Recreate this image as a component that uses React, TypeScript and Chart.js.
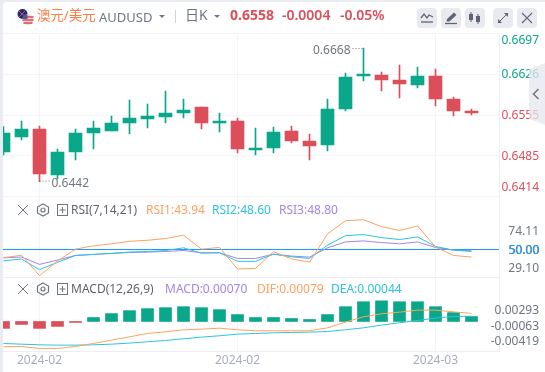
import React, { useEffect, useRef } from "react";
import { Chart, registerables } from "chart.js";

Chart.register(...registerables);

const FONT = '"Noto Sans","Noto Sans CJK SC",sans-serif';
const GREEN = "#0aa78a";
const RED = "#dc4f5a";
const GREY = "#6f7683";
const ORANGE = "#ffa15f";
const CYAN = "#2cc4e0";
const PURPLE = "#a585e6";
const GRID = "#f2f4f8";
const BLUE = "#1a9bf5";

const opens = [0.6491, 0.6517, 0.65308, 0.64512, 0.6491, 0.65239, 0.65274, 0.65412, 0.65481, 0.65516, 0.65585, 0.65689, 0.65412, 0.65447, 0.64945, 0.64979, 0.65274, 0.65101, 0.65031, 0.65654, 0.66226, 0.66243, 0.66156, 0.6607, 0.66226, 0.65828, 0.6562];
const highs = [0.65349, 0.65447, 0.6536, 0.64962, 0.65308, 0.65447, 0.65533, 0.6581, 0.65741, 0.65966, 0.65828, 0.65689, 0.65585, 0.65499, 0.65326, 0.65343, 0.6536, 0.65222, 0.65828, 0.66278, 0.6671, 0.66295, 0.66416, 0.66381, 0.66347, 0.65862, 0.65654];
const lows = [0.64858, 0.65118, 0.64397, 0.64443, 0.64772, 0.64962, 0.65274, 0.65222, 0.65326, 0.65412, 0.65499, 0.65308, 0.65256, 0.64893, 0.64858, 0.64893, 0.65066, 0.64772, 0.64927, 0.6562, 0.66139, 0.65966, 0.65845, 0.66018, 0.65706, 0.65533, 0.65551];
const closes = [0.65239, 0.65308, 0.64529, 0.6491, 0.65239, 0.65326, 0.65412, 0.65499, 0.65533, 0.65585, 0.65637, 0.65412, 0.65447, 0.64962, 0.64979, 0.65256, 0.65101, 0.65014, 0.65654, 0.66208, 0.6626, 0.66156, 0.66087, 0.66226, 0.65828, 0.6562, 0.65585];

const rsi1 = [43.4, 45.5, 29.3, 40.8, 50.3, 52.9, 54.5, 56.5, 57.3, 58.7, 61.3, 50.3, 51.6, 34.6, 35, 48.2, 42.6, 40, 62.3, 72.8, 73.6, 68.1, 65, 68.6, 52.1, 45.3, 44];
const rsi2 = [41.1, 42.4, 34, 39.8, 45.3, 46.1, 46.9, 48, 48.4, 49.2, 51.3, 47.1, 47.4, 40.6, 40.6, 46.3, 44.2, 42.9, 53.4, 61, 61.8, 59.4, 57.9, 60, 52.4, 49.5, 48.4];
const rsi3 = [43.4, 44, 38.2, 41.6, 45.3, 46.1, 46.9, 47.6, 47.9, 48.4, 49.2, 47.4, 47.4, 42.9, 42.9, 46.3, 44.8, 44, 51.3, 56, 56.8, 55.5, 54.5, 56, 51.6, 49.5, 49];

const macdBars = [-0.00098, -0.00042, -0.00098, -0.0007, -0.00014, 0.00056, 0.00112, 0.00154, 0.00182, 0.00196, 0.0021, 0.00196, 0.00168, 0.00098, 0.00056, 0.00056, 0.00042, 0.00028, 0.00098, 0.0021, 0.0028, 0.00293, 0.0028, 0.0028, 0.0021, 0.00126, 0.0007];
const dif = [-0.00359, -0.00355, -0.00383, -0.00383, -0.00355, -0.00312, -0.00265, -0.00218, -0.0017, -0.00147, -0.00118, -0.00109, -0.00095, -0.00118, -0.00132, -0.00132, -0.00132, -0.00132, -0.0009, -0.00009, 0.00066, 0.00109, 0.00132, 0.00161, 0.00161, 0.00137, 0.00114];
const dea = [-0.00312, -0.00322, -0.00331, -0.00336, -0.00336, -0.00331, -0.00322, -0.00307, -0.00288, -0.0027, -0.00246, -0.00222, -0.00203, -0.0018, -0.0017, -0.00161, -0.00156, -0.00151, -0.00142, -0.00118, -0.0009, -0.00052, -0.00019, 0.00014, 0.00047, 0.00071, 0.00076];

const xTickIndexes = [2, 13, 24];
const xTickLabels = ["2024-02", "2024-02", "2024-03"];
const priceTicks = [0.6697, 0.6626, 0.6555, 0.6485, 0.6414];
const priceLabels = ["0.6697", "0.6626", "0.6555", "0.6485", "0.6414"];
const rsiTicks = [74.11, 50, 50, 29.1];
const rsiLabels = ["74.11", "50.00", "50.00", "29.10"];
const macdTicks = [0.00293, -0.00063, -0.00419];
const macdLabels = ["0.00293", "-0.00063", "-0.00419"];
const highMark = { index: 20, label: "0.6668" };
const lowMark = { index: 2, label: "0.6442" };

const labelShift: Record<string, number[]> = {
  y: [7.5, 0.5, 1, 1, -8.5],
  yRsi: [12.7, 0.7, 0.7, -7],
  yMacd: [9.7, 0.7, -9],
};

const pts = (arr: number[]) => arr.map((y, x) => ({ x, y }));

const chartPlugin = {
  id: "terminal",
  beforeDraw(chart: any) {
    for (const id of Object.keys(labelShift)) {
      const scale = chart.scales[id];
      scale.getLabelItems().forEach((item: any, i: number) => {
        const blueCopy = id === "yRsi" && i === 2;
        item.options.textAlign = "right";
        item.options.translation = [blueCopy ? 539.6 : 539, scale.getPixelForValue(scale.ticks[i].value) + labelShift[id][i]];
      });
    }
  },
  beforeDatasetsDraw(chart: any) {
    const { ctx, chartArea } = chart;
    ctx.save();
    ctx.strokeStyle = "#eceef3";
    ctx.lineWidth = 1;
    for (const id of ["yRsi", "yMacd"]) {
      const y = Math.round(chart.scales[id].bottom) + 0.5;
      ctx.beginPath();
      ctx.moveTo(chartArea.left, y);
      ctx.lineTo(chartArea.right, y);
      ctx.stroke();
    }
    ctx.restore();
  },
  afterDatasetsDraw(chart: any) {
    const { ctx, scales } = chart;
    ctx.save();
    ctx.font = `12px ${FONT}`;
    ctx.fillStyle = GREY;
    ctx.strokeStyle = GREY;
    ctx.textBaseline = "middle";
    ctx.setLineDash([1, 2]);
    const hx = scales.x.getPixelForValue(highMark.index);
    const hy = scales.y.getPixelForValue(highs[highMark.index]);
    ctx.beginPath();
    ctx.moveTo(hx - 11, hy + 0.5);
    ctx.lineTo(hx, hy + 0.5);
    ctx.stroke();
    ctx.textAlign = "right";
    ctx.fillText(highMark.label, hx - 13, hy + 2.5);
    const lx = scales.x.getPixelForValue(lowMark.index);
    const ly = scales.y.getPixelForValue(lows[lowMark.index]);
    ctx.beginPath();
    ctx.moveTo(lx, ly - 0.5);
    ctx.lineTo(lx + 10, ly - 0.5);
    ctx.stroke();
    ctx.textAlign = "left";
    ctx.fillText(lowMark.label, lx + 12, ly + 2);
    ctx.restore();
  },
};

const Text = ({ x, y, color, size = 12, weight = 400, children }: any) => (
  <span
    style={{
      position: "absolute",
      left: x,
      top: y,
      transform: "translateY(-50%)",
      color,
      fontSize: size,
      fontWeight: weight,
      lineHeight: 1,
      whiteSpace: "nowrap",
      fontFamily: FONT,
    }}
  >
    {children}
  </span>
);

const Caret = ({ x, y }: any) => (
  <div
    style={{
      position: "absolute",
      left: x,
      top: y,
      width: 0,
      height: 0,
      borderLeft: "3px solid transparent",
      borderRight: "3px solid transparent",
      borderTop: "3px solid #6f7683",
    }}
  />
);

const Button = ({ x, children }: any) => (
  <div style={{ position: "absolute", left: x, top: 8, width: 20, height: 20, borderRadius: 4, background: "#e8eaf0" }}>
    <svg width="20" height="20" viewBox="0 0 20 20" style={{ display: "block" }}>
      {children}
    </svg>
  </div>
);

const PaneIcons = ({ y }: any) => (
  <svg width="56" height="14" viewBox="0 0 56 14" style={{ position: "absolute", left: 15, top: y - 7 }}>
    <path d="M3 2 L13 12 M13 2 L3 12" stroke="#6f7683" strokeWidth="1" fill="none" />
    <path d="M28 1 L33.5 4 L33.5 10 L28 13 L22.500 10 L22.500 4 Z" stroke="#6f7683" strokeWidth="1.2" fill="none" />
    <circle cx="28" cy="7" r="2" stroke="#6f7683" strokeWidth="1.2" fill="none" />
    <rect x="42.5" y="1.500" width="10" height="11" stroke="#6f7683" strokeWidth="1" fill="none" />
    <path d="M44.500 7 L50.500 7 M47.500 4 L47.500 10" stroke="#6f7683" strokeWidth="1" />
  </svg>
);

export default function App() {
  const ref = useRef<HTMLCanvasElement>(null);

  useEffect(() => {
    document.body.style.margin = "0";
    Chart.defaults.font.family = FONT;
    Chart.defaults.font.size = 12;

    const candleColors = closes.map((c, i) => (c >= opens[i] ? GREEN : RED));
    const barColors = macdBars.map((v) => (v >= 0 ? GREEN : RED));
    const lineBase = { type: "line", pointRadius: 0, borderWidth: 1, tension: 0, fill: false, order: 0 };
    const barBase = { type: "bar", grouped: false, order: 2, borderWidth: 0 };
    const yCommon = {
      position: "right",
      stack: "panes",
      afterFit: (s: any) => {
        s.width = 46;
      },
    };

    const chart = new Chart(ref.current as HTMLCanvasElement, {
      type: "bar",
      data: {
        datasets: [
          {
            ...barBase,
            label: "wick",
            yAxisID: "y",
            barThickness: 1,
            backgroundColor: candleColors,
            data: lows.map((l, x) => ({ x, y: [l, highs[x]] })),
          },
          {
            ...barBase,
            label: "candle",
            yAxisID: "y",
            barThickness: 13,
            backgroundColor: candleColors,
            data: opens.map((o, x) => ({ x, y: [o, closes[x]] })),
          },
          { ...lineBase, label: "RSI1", yAxisID: "yRsi", borderColor: ORANGE, data: pts(rsi1) },
          { ...lineBase, label: "RSI2", yAxisID: "yRsi", borderColor: CYAN, data: pts(rsi2) },
          { ...lineBase, label: "RSI3", yAxisID: "yRsi", borderColor: PURPLE, data: pts(rsi3) },
          {
            ...lineBase,
            label: "RSI 50",
            yAxisID: "yRsi",
            borderColor: BLUE,
            data: [
              { x: -1, y: 50 },
              { x: 28, y: 50 },
            ],
          },
          {
            ...barBase,
            label: "MACD",
            yAxisID: "yMacd",
            barThickness: 12,
            backgroundColor: barColors,
            data: pts(macdBars),
          },
          { ...lineBase, label: "DIF", yAxisID: "yMacd", borderColor: ORANGE, data: pts(dif) },
          { ...lineBase, label: "DEA", yAxisID: "yMacd", borderColor: CYAN, data: pts(dea) },
        ] as any,
      },
      options: {
        animation: false,
        responsive: false,
        events: [],
        layout: { padding: { left: 3, top: 33, right: 0, bottom: 0 } },
        plugins: { legend: { display: false }, tooltip: { enabled: false }, title: { display: false } },
        scales: {
          x: {
            type: "linear",
            offset: false,
            min: -0.0278,
            max: 27.528,
            afterFit: (s: any) => {
              s.height = 21;
              s.paddingLeft = 0;
              s.paddingRight = 0;
            },
            afterBuildTicks: (s: any) => {
              s.ticks = xTickIndexes.map((value) => ({ value }));
            },
            grid: { color: GRID, drawTicks: false, offset: false },
            border: { display: false },
            ticks: {
              autoSkip: false,
              maxRotation: 0,
              color: "#a9adbb",
              padding: 2,
              callback: (_v: any, i: number) => xTickLabels[i],
            },
          },
          y: {
            ...yCommon,
            weight: 1,
            stackWeight: 163.5,
            min: 0.6414,
            max: 0.6697,
            afterBuildTicks: (s: any) => {
              s.ticks = priceTicks.map((value) => ({ value }));
            },
            grid: { color: GRID, drawTicks: false },
            border: { color: "#eceef3" },
            ticks: {
              autoSkip: false,
              mirror: true,
              color: (c: any) => (c.index < 2 ? GREEN : RED),
              callback: (_v: any, i: number) => priceLabels[i],
            },
          },
          yRsi: {
            ...yCommon,
            weight: 2,
            stackWeight: 80.5,
            min: 28.2,
            max: 92,
            afterBuildTicks: (s: any) => {
              s.ticks = rsiTicks.map((value) => ({ value }));
            },
            grid: { display: false },
            border: { color: "#eceef3" },
            ticks: {
              autoSkip: false,
              mirror: true,
              color: (c: any) => (c.index === 2 ? BLUE : GREY),
              callback: (_v: any, i: number) => rsiLabels[i],
            },
          },
          yMacd: {
            ...yCommon,
            weight: 3,
            stackWeight: 74,
            min: -0.00419,
            max: 0.00631,
            afterBuildTicks: (s: any) => {
              s.ticks = macdTicks.map((value) => ({ value }));
            },
            grid: { display: false },
            border: { color: "#eceef3" },
            ticks: {
              autoSkip: false,
              mirror: true,
              color: GREY,
              callback: (_v: any, i: number) => macdLabels[i],
            },
          },
        } as any,
      },
      plugins: [chartPlugin as any],
    } as any);
    return () => chart.destroy();
  }, []);

  return (
    <div style={{ position: "relative", width: 545, height: 372, background: "#e9ecf1", overflow: "hidden" }}>
      <div style={{ position: "absolute", left: 3, top: 2, right: 0, bottom: 0, background: "#fff", borderTopLeftRadius: 4 }} />
      <canvas ref={ref} width={545} height={372} style={{ position: "absolute", left: 0, top: 0, width: 545, height: 372 }} />

      <svg width="18" height="18" viewBox="0 0 18 18" style={{ position: "absolute", left: 17, top: 8 }}>
        <circle cx="5.500" cy="6" r="5" fill="#1d2a78" />
        <path d="M2 3 L8 9 M8 3 L2 9" stroke="#d9485a" strokeWidth="1" />
        <circle cx="11" cy="11.500" r="5.500" fill="#f2d9dc" />
        <path d="M6 9 H16.500 M5.500 12 H16.500 M6.500 15 H15.500" stroke="#d9485a" strokeWidth="1.300" />
        <path d="M6 6.500 H10.500 V11 H6 Z" fill="#545a86" />
      </svg>
      <Text x={37} y={15.5} color="#ff7b45" size={13.4}>澳元/美元</Text>
      <Text x={99} y={16.5} color={GREY} size={13}>AUDUSD</Text>
      <Caret x={159} y={15} />
      <div style={{ position: "absolute", left: 175, top: 10, width: 1, height: 13, background: "#cfd3da" }} />
      <Text x={185} y={15} color={GREY} size={14}>日K</Text>
      <Caret x={214} y={15} />
      <Text x={230} y={15} color={RED} size={14} weight={700}>0.6558</Text>
      <Text x={282} y={15} color={RED} size={14} weight={600}>-0.0004</Text>
      <Text x={340} y={15} color={RED} size={14} weight={600}>-0.05%</Text>

      <Button x={417}>
        <path d="M4 10 L7 6 L10 10 L12 7 L16 9" stroke="#5f6570" strokeWidth="1.300" fill="none" />
        <path d="M4 14 H16" stroke="#5f6570" strokeWidth="1.300" />
      </Button>
      <Button x={441}>
        <path d="M6 11 L13 4.500 L15.500 7 L8.500 13.500 L5.500 13.500 Z" fill="#5f6570" />
        <path d="M4 15.500 H16" stroke="#5f6570" strokeWidth="1.300" />
      </Button>
      <Button x={465}>
        <rect x="4" y="6" width="4" height="6" fill="#5f6570" />
        <path d="M6 4 V14 M13 6 V16" stroke="#5f6570" strokeWidth="1" />
        <rect x="11" y="8" width="4" height="6" fill="#5f6570" />
      </Button>
      <Button x={493}>
        <path d="M5.500 14.500 L14.500 5.500" stroke="#5f6570" strokeWidth="1" />
        <path d="M11 5 H15 V9 Z M5 11 V15 H9 Z" fill="#5f6570" />
      </Button>
      <Button x={517}>
        <path d="M5 5 L15 15 M15 5 L5 15" stroke="#5f6570" strokeWidth="1.200" />
      </Button>

      <div
        style={{
          position: "absolute",
          left: 529,
          top: 63,
          width: 16,
          height: 62,
          background: "rgba(228,231,238,0.75)",
          clipPath: "polygon(0 10%, 100% 0, 100% 100%, 0 90%)",
        }}
      />
      <svg width="8" height="12" viewBox="0 0 8 12" style={{ position: "absolute", left: 532, top: 88 }}>
        <path d="M6.500 1 L1.500 6 L6.500 11" stroke="#6f7683" strokeWidth="1.500" fill="none" />
      </svg>

      <PaneIcons y={209.5} />
      <Text x={71} y={209.5} color="#5f6470">RSI(7,14,21)</Text>
      <Text x={146} y={209.5} color={ORANGE}>RSI1:43.94</Text>
      <Text x={212} y={209.5} color={CYAN}>RSI2:48.60</Text>
      <Text x={279} y={209.5} color={PURPLE}>RSI3:48.80</Text>

      <PaneIcons y={288.5} />
      <Text x={71} y={288.5} color="#5f6470">MACD(12,26,9)</Text>
      <Text x={165} y={288.5} color={PURPLE}>MACD:0.00070</Text>
      <Text x={257} y={288.5} color={ORANGE}>DIF:0.00079</Text>
      <Text x={331} y={288.5} color={CYAN}>DEA:0.00044</Text>
    </div>
  );
}
